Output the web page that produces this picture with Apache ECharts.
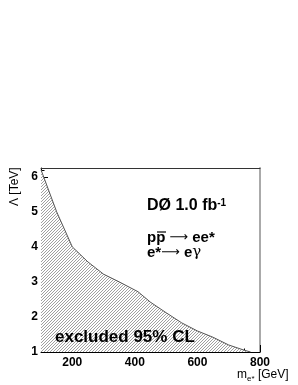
<!DOCTYPE html>
<html><head><meta charset="utf-8">
<script src="https://cdn.jsdelivr.net/npm/echarts@6/dist/echarts.min.js"></script>
<style>html,body{margin:0;padding:0;background:#fff}#c{width:298px;height:385px}</style>
</head><body><div id="c"></div>
<script>
// Data
const massGeV = [100, 150, 200, 250, 300, 350, 410, 450, 500, 550, 600, 650, 700, 750, 770];
const lambdaTeV = [6.2, 5.0, 4.0, 3.57, 3.22, 3.0, 2.72, 2.42, 2.12, 1.83, 1.6, 1.42, 1.2, 1.05, 1.0];
const xTickLabels = [200, 400, 600, 800];
const yTickLabels = [1, 2, 3, 4, 5, 6];

const FONT = 'Liberation Sans';
// hatch pattern
const pc = document.createElement('canvas');
pc.width = 3; pc.height = 3;
const g = pc.getContext('2d');
g.fillStyle = '#fff'; g.fillRect(0,0,3,3);
g.strokeStyle = '#777'; g.lineWidth = 0.7;
g.beginPath();
g.moveTo(-1,4); g.lineTo(4,-1);
g.moveTo(-1,1); g.lineTo(1,-1);
g.moveTo(2,4); g.lineTo(4,2);
g.stroke();

const chart = echarts.init(document.getElementById('c'), null, {renderer:'canvas'});
const xMin = 100, xMax = 800, yMin = 1, yMax = 6.25;
const txt = {fontFamily:FONT, fontWeight:'bold', fontSize:15, fill:'#000', lineHeight:16};
const arr = {fontFamily:'DejaVu Sans', fontWeight:'normal', fontSize:13, fill:'#000', lineHeight:16, verticalAlign:'middle'};
chart.setOption({
  animation:false,
  grid:{left:41, right:38, top:168, bottom:33},
  xAxis:[
    {type:'value', min:xMin, max:xMax, position:'bottom',
     axisLine:{lineStyle:{color:'#000', width:1}},
     axisTick:{inside:true, length:7, customValues:xTickLabels, lineStyle:{color:'#000'}},
     axisLabel:{customValues:xTickLabels, color:'#000', fontFamily:FONT, fontWeight:'bold', fontSize:12, margin:5},
     splitLine:{show:false}},
    {type:'value', min:xMin, max:xMax, interval:50, position:'bottom',
     axisLine:{show:false},
     axisTick:{inside:true, length:3.5, lineStyle:{color:'#000'}},
     axisLabel:{show:false}, splitLine:{show:false}},
    {type:'value', min:xMin, max:xMax, position:'top',
     axisLine:{lineStyle:{color:'#333', width:1}}, axisTick:{show:false}, axisLabel:{show:false}, splitLine:{show:false}}
  ],
  yAxis:[
    {type:'value', min:yMin, max:yMax, interval:1, position:'left',
     axisLine:{show:true, lineStyle:{color:'#000', width:1}},
     axisTick:{show:true, inside:true, length:7, customValues:yTickLabels, lineStyle:{color:'#000'}},
     minorTick:{show:true, splitNumber:5, length:3.5, lineStyle:{color:'#000'}},
     axisLabel:{customValues:yTickLabels, color:'#000', fontFamily:FONT, fontWeight:'bold', fontSize:12, margin:3},
     splitLine:{show:false}},
    {type:'value', min:yMin, max:yMax, position:'right',
     axisLine:{show:true, lineStyle:{color:'#aaa', width:2}}, axisTick:{show:false}, axisLabel:{show:false}, splitLine:{show:false}}
  ],
  series:[{
    type:'line', xAxisIndex:0, yAxisIndex:0,
    data: massGeV.map((m,i)=>[m, lambdaTeV[i]]),
    showSymbol:false, symbol:'none',
    lineStyle:{color:'#555', width:1},
    areaStyle:{color:{image:pc, repeat:'repeat'}, opacity:1, origin:'start'},
    z:1
  }],
  graphic:[
    {type:'text', left:147, top:198, z:10, style:{
      text:'{a|DØ 1.0 fb}{s|-1}', rich:{
        a:{fontFamily:FONT, fontWeight:'bold', fontSize:16, fill:'#000', verticalAlign:'bottom', lineHeight:16},
        s:{fontFamily:FONT, fontWeight:'bold', fontSize:10, fill:'#000', verticalAlign:'top', lineHeight:16, padding:[0,0,8,0]}
      }}},
    {type:'text', left:147, top:230, z:10, style:{text:'{t|pp}{r| ⟶ }{t|ee*}', rich:{t:txt, r:arr}}},
    {type:'line', z:10, shape:{x1:157, y1:232, x2:166, y2:232}, style:{stroke:'#000', lineWidth:1.2}},
    {type:'text', left:147, top:245, z:10, style:{text:'{t|e*}{r|⟶ }{t|e}{g|γ}', rich:{t:txt, r:arr, g:{fontFamily:'DejaVu Serif', fontSize:15, fill:'#000', lineHeight:16}}}},
    {type:'text', left:55, top:329, z:10, style:{text:'excluded 95% CL', fontFamily:FONT, fontWeight:'bold', fontSize:17, fill:'#000'}},
    {type:'text', x:9, y:206, rotation:Math.PI/2, z:10, style:{text:'Λ [TeV]', fontFamily:FONT, fontSize:12, fill:'#000'}},
    {type:'text', left:237, top:369, z:10, style:{
      text:'{m|m}{s|e*}{m| [GeV]}', rich:{
        m:{fontFamily:FONT, fontSize:12, fill:'#000', verticalAlign:'top'},
        s:{fontFamily:FONT, fontSize:8, fill:'#000', padding:[6,0,0,0]}
      }}}
  ]
});
</script></body></html>
